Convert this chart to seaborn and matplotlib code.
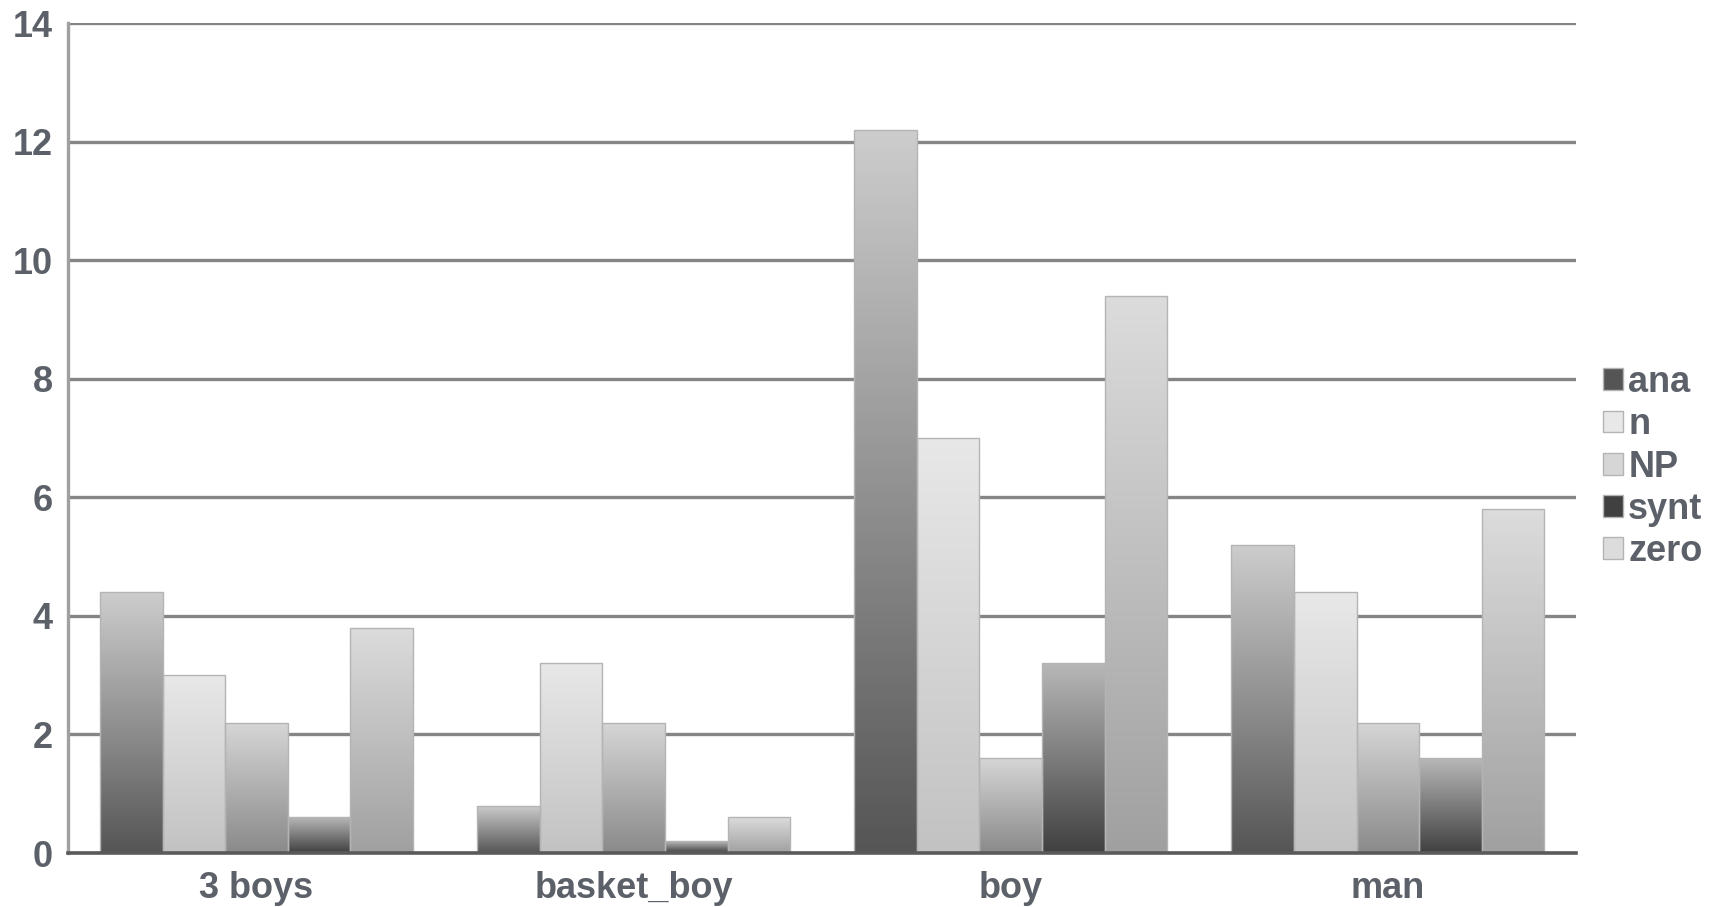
import numpy as np
import pandas as pd
import matplotlib
matplotlib.use("Agg")
import matplotlib.pyplot as plt
import seaborn as sns
from matplotlib.colors import LinearSegmentedColormap
from matplotlib.patches import Patch

# data
categories = ["3 boys", "basket_boy", "boy", "man"]
series = ["ana", "n", "NP", "synt", "zero"]
ana = [4.4, 0.8, 12.2, 5.2]
n = [3.0, 3.2, 7.0, 4.4]
NP = [2.2, 2.2, 1.6, 2.2]
synt = [0.6, 0.2, 3.2, 1.6]
zero = [3.8, 0.6, 9.4, 5.8]

# bottom -> top gradient colours per series
grad = {
    "ana": ("#555555", "#cdcdcd"),
    "n": ("#c2c2c2", "#e8e8e8"),
    "NP": ("#8a8a8a", "#d6d6d6"),
    "synt": ("#404040", "#b8b8b8"),
    "zero": ("#a0a0a0", "#dcdcdc"),
}

values = {"ana": ana, "n": n, "NP": NP, "synt": synt, "zero": zero}
df = pd.DataFrame([
    {"category": c, "series": s, "value": values[s][i]}
    for s in series for i, c in enumerate(categories)
])

sns.set_style("white")
plt.rcParams["font.family"] = ["Liberation Sans", "DejaVu Sans"]
text_col = "#5c6068"

fig = plt.figure(figsize=(17.21, 9.07), dpi=100)
ax = fig.add_axes([0.0395, 0.0595, 0.8765, 0.9151])

mid = {s: grad[s][1] for s in series}
sns.barplot(data=df, x="category", y="value", hue="series", order=categories,
            hue_order=series, palette=mid, width=0.83, ax=ax, legend=False,
            edgecolor="#b4b4b4", linewidth=1.0, zorder=3)

# vertical gradient per bar, clipped to the bar
for s_idx, s in enumerate(series):
    cmap = LinearSegmentedColormap.from_list(s, grad[s])
    for p in ax.patches[s_idx * len(categories):(s_idx + 1) * len(categories)]:
        x0, y0 = p.get_x(), p.get_y()
        w, h = p.get_width(), p.get_height()
        g = np.linspace(0, 1, 256).reshape(-1, 1)
        im = ax.imshow(g, cmap=cmap, origin="lower", aspect="auto",
                       extent=[x0, x0 + w, y0, y0 + h], zorder=3.5)
        im.set_clip_path(p)
        p.set_facecolor("none")
        p.set_zorder(4)

ax.set_xlim(-0.5, 3.5)
ax.set_ylim(0, 14)
ax.set_yticks(np.arange(0, 15, 2))
ax.grid(axis="y", color="#858585", linewidth=2.4, zorder=1)
ax.set_axisbelow(True)

for side in ["top", "right"]:
    ax.spines[side].set_visible(False)
ax.spines["left"].set_color("#a0a0a0")
ax.spines["left"].set_linewidth(2.4)
ax.spines["bottom"].set_color("#5a5a5a")
ax.spines["bottom"].set_linewidth(2.6)
ax.spines["bottom"].set_zorder(5)

ax.tick_params(axis="y", length=8, width=2.4, color="#a0a0a0", pad=3,
               labelsize=26, labelcolor=text_col)
ax.set_xticks(range(len(categories)))
ax.set_xticklabels(categories)
ax.set_xticks(np.arange(-0.5, 4, 1), minor=True)
ax.tick_params(axis="x", which="major", length=0, pad=13, labelsize=26,
               labelcolor=text_col)
ax.tick_params(axis="x", which="minor", length=7, width=1.5, color="#8a8a8a")
for lab in ax.get_xticklabels() + ax.get_yticklabels():
    lab.set_fontweight("bold")

ax.set_xlabel("")
ax.set_ylabel("")

handles = [Patch(facecolor=grad[s][0] if s in ("ana", "synt") else grad[s][1],
                 edgecolor="#b4b4b4") for s in series]
leg = ax.legend(handles, series, loc="center left", bbox_to_anchor=(1.008, 0.465),
                frameon=False, fontsize=26, handlelength=0.55, handleheight=0.55,
                handletextpad=0.15, labelspacing=0.2, borderaxespad=0)
for t in leg.get_texts():
    t.set_color(text_col)
    t.set_fontweight("bold")

fig.savefig("out.png", dpi=100)
